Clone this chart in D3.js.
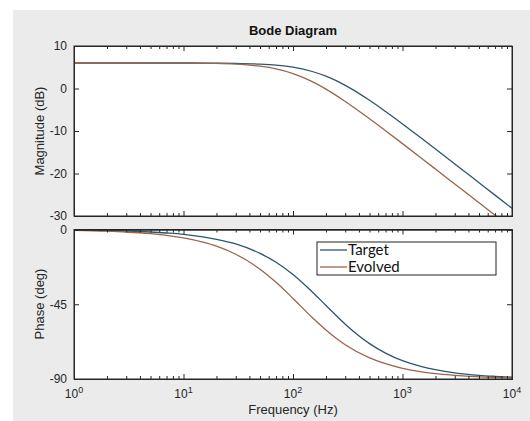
<!DOCTYPE html>
<html><head><meta charset="utf-8">
<script src="https://cdn.jsdelivr.net/npm/d3@7"></script>
<style>body{margin:0;background:#fff}svg{display:block}</style>
</head><body><svg id="c" width="530" height="421"></svg>
<script>
const freqs = [1,2,3,5,7,10,15,20,30,50,70,100,150,200,300,500,700,1000,1500,2000,3000,5000,7000,10000];
const targetMag = [6.0,6.0,6.0,6.0,6.0,6.0,5.99,5.97,5.92,5.74,5.49,5.01,4.0,2.9,0.75,-2.77,-5.41,-8.34,-11.78,-14.24,-17.74,-22.17,-25.09,-28.18];
const evolvedMag = [6.0,6.0,6.0,5.99,5.99,5.99,5.94,5.89,5.72,5.24,4.61,3.51,1.61,-0.14,-3.04,-7.11,-9.93,-12.97,-16.46,-18.95,-22.47,-26.9,-29.82,-32.92];
const targetPhase = [-0.3,-0.6,-0.9,-1.5,-2.1,-2.9,-4.4,-5.9,-8.7,-14.4,-19.7,-27.1,-37.6,-45.7,-57.0,-68.7,-74.4,-79.0,-82.6,-84.4,-86.3,-87.8,-88.4,-88.9];
const evolvedPhase = [-0.5,-1.0,-1.5,-2.5,-3.5,-5.1,-7.6,-10.0,-14.9,-23.9,-31.8,-41.5,-53.0,-60.5,-69.4,-77.3,-80.8,-83.6,-85.7,-86.8,-87.8,-88.7,-89.1,-89.4];
const seriesNames = ["Target","Evolved"];
const seriesColors = ["#2b5670","#9a6548"];
const magTicks = [10,0,-10,-20,-30];
const phaseTicks = [0,-45,-90];
const xTicks = [1,10,100,1000,10000];

const svg = d3.select("#c");
svg.append("rect").attr("x",13).attr("y",10).attr("width",517).attr("height",411).attr("fill","#ebebeb");

const L=74, R=512;
const x = d3.scaleLog().domain([1,10000]).range([L,R]);
const yMag = d3.scaleLinear().domain([-30,10]).range([216,46]);
const yPh = d3.scaleLinear().domain([-90,0]).range([379,229.5]);
const font = "Liberation Sans, Arial, sans-serif";
const axCol = "#262626";

function panel(y, ticks, id, series, showXLabels){
  const [y0,y1] = y.range();
  svg.append("rect").attr("x",L).attr("y",y1).attr("width",R-L).attr("height",y0-y1).attr("fill","#fff");
  svg.append("clipPath").attr("id",id).append("rect").attr("x",L).attr("y",y1).attr("width",R-L).attr("height",y0-y1);
  const line = d3.line().x((d,i)=>x(freqs[i])).y(d=>y(d)).curve(d3.curveMonotoneX);
  series.forEach((s,k)=>{
    svg.append("path").attr("d",line(s)).attr("fill","none").attr("stroke",seriesColors[k]).attr("stroke-width",1.3).attr("clip-path",`url(#${id})`);
  });
  const minor = [];
  for(let d=1; d<10000; d*=10) for(let m=2;m<10;m++) minor.push(d*m);
  const gb = svg.append("g").attr("transform",`translate(0,${y0})`)
    .call(d3.axisBottom(x).tickValues(xTicks).tickSize(-5).tickFormat(""));
  const gbm = svg.append("g").attr("transform",`translate(0,${y0})`)
    .call(d3.axisBottom(x).tickValues(minor).tickSize(-3).tickFormat(""));
  const gt = svg.append("g").attr("transform",`translate(0,${y1})`)
    .call(d3.axisTop(x).tickValues(xTicks).tickSize(-5).tickFormat(""));
  const gtm = svg.append("g").attr("transform",`translate(0,${y1})`)
    .call(d3.axisTop(x).tickValues(minor).tickSize(-3).tickFormat(""));
  const gl = svg.append("g").attr("transform",`translate(${L},0)`)
    .call(d3.axisLeft(y).tickValues(ticks).tickSize(-5).tickPadding(7).tickFormat(d=>String(d)));
  const gr = svg.append("g").attr("transform",`translate(${R},0)`)
    .call(d3.axisRight(y).tickValues(ticks).tickSize(-5).tickFormat(""));
  [gb,gbm,gt,gtm,gl,gr].forEach(g=>{
    g.selectAll(".domain").attr("stroke",axCol);
    g.selectAll("line").attr("stroke",axCol);
  });
  gl.selectAll("text").attr("font-family",font).attr("font-size",12).attr("fill",axCol);
  svg.append("rect").attr("x",L).attr("y",y1).attr("width",R-L).attr("height",y0-y1).attr("fill","none").attr("stroke",axCol).attr("stroke-width",1);
  if(showXLabels){
    xTicks.forEach(t=>{
      const tx = svg.append("text").attr("x",x(t)).attr("y",y0+19).attr("text-anchor","middle")
        .attr("font-family",font).attr("font-size",12).attr("fill",axCol);
      tx.append("tspan").text("10");
      tx.append("tspan").attr("dy",-5).attr("font-size",9).text(Math.round(Math.log10(t)));
    });
  }
}
panel(yMag, magTicks, "cm", [targetMag, evolvedMag], false);
panel(yPh, phaseTicks, "cp", [targetPhase, evolvedPhase], true);

svg.append("text").attr("x",293).attr("y",35).attr("text-anchor","middle").attr("font-family",font)
  .attr("font-weight","bold").attr("font-size",13).attr("fill","#111").text("Bode Diagram");
svg.append("text").attr("transform","translate(44,131) rotate(-90)").attr("text-anchor","middle")
  .attr("font-family",font).attr("font-size",13).attr("fill",axCol).text("Magnitude (dB)");
svg.append("text").attr("transform","translate(44,304) rotate(-90)").attr("text-anchor","middle")
  .attr("font-family",font).attr("font-size",13).attr("fill",axCol).text("Phase (deg)");
svg.append("text").attr("x",293).attr("y",414).attr("text-anchor","middle")
  .attr("font-family",font).attr("font-size",13).attr("fill",axCol).text("Frequency (Hz)");

// legend
const lg = svg.append("g");
lg.append("rect").attr("x",317).attr("y",242).attr("width",179).attr("height",33).attr("fill","#fff").attr("stroke","#222").attr("stroke-width",1);
seriesNames.forEach((n,i)=>{
  const yy = 250 + i*17;
  lg.append("line").attr("x1",320).attr("x2",347).attr("y1",yy).attr("y2",yy).attr("stroke",seriesColors[i]).attr("stroke-width",1.3);
  lg.append("text").attr("x",348).attr("y",yy+5).attr("font-family","Lato, sans-serif").attr("font-size",15).attr("fill","#111").text(n);
});
</script></body></html>
